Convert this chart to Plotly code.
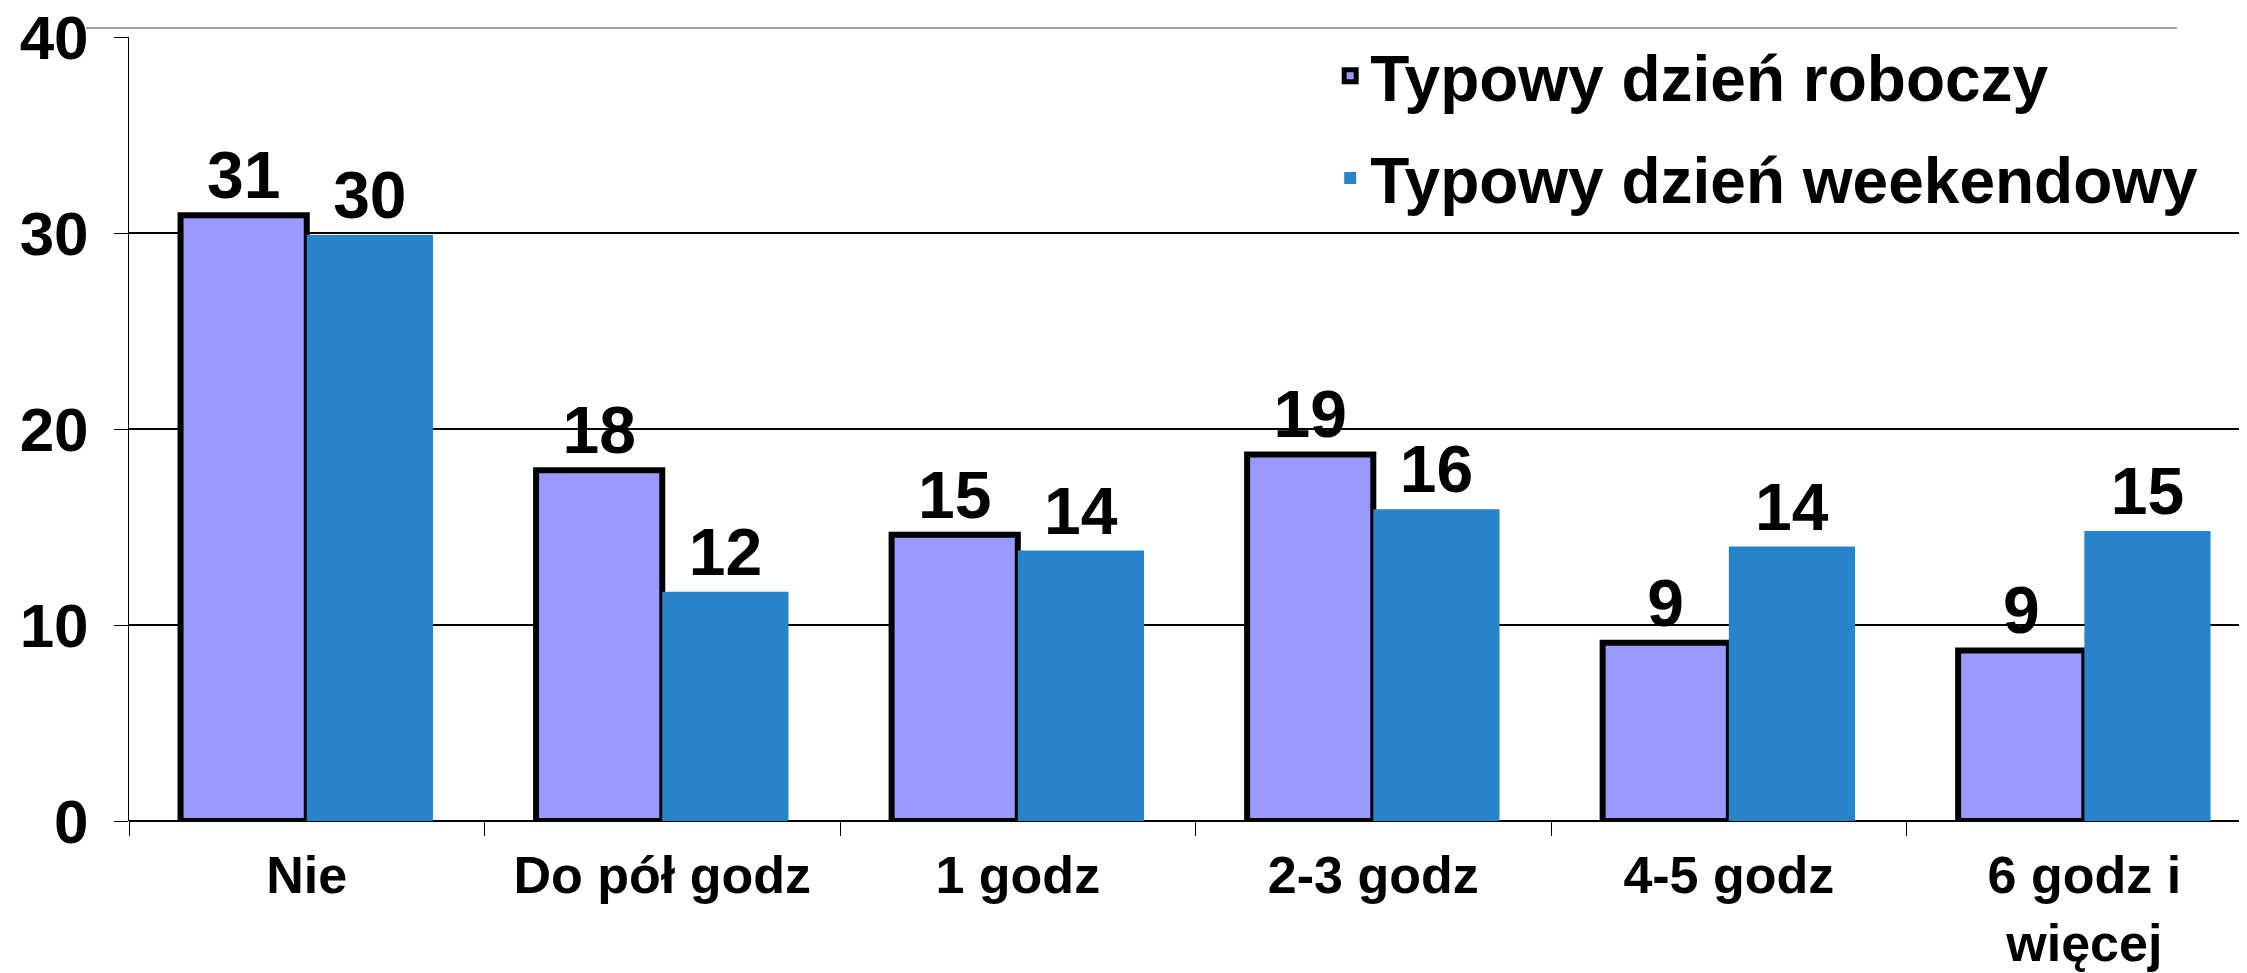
import plotly.graph_objects as go

# categories and values
categories = ["Nie", "Do pół godz", "1 godz", "2-3 godz", "4-5 godz", "6 godz i<br>więcej"]
workday = [30.9, 17.9, 14.6, 18.7, 9.1, 8.7]
weekend = [29.9, 11.7, 13.8, 15.9, 14.0, 14.8]
series_names = ["Typowy dzień roboczy", "Typowy dzień weekendowy"]
y_ticks = [0, 10, 20, 30, 40]

FONT = "Liberation Sans, Arial, sans-serif"
color_workday = "#9999FF"
color_weekend = "#2884C8"

fig = go.Figure()
fig.add_trace(go.Bar(x=categories,
                     y=workday,
                     name=series_names[0],
                     legendgroup="a",
                     marker=dict(color=color_workday, line=dict(color="black", width=6)),
                     texttemplate="%{y:.0f}",
                     textposition="outside",
                     constraintext="none",
                     cliponaxis=False,
                     textfont=dict(family=FONT, size=66, color="black", weight="bold")))
fig.add_trace(go.Bar(x=categories,
                     y=weekend,
                     name=series_names[1],
                     legendgroup="b",
                     marker=dict(color=color_weekend, line=dict(width=0)),
                     texttemplate="%{y:.0f}",
                     textposition="outside",
                     constraintext="none",
                     cliponaxis=False,
                     textfont=dict(family=FONT, size=66, color="black", weight="bold")))

fig.update_layout(width=2247,
                  height=973,
                  margin=dict(l=121, r=0, t=29, b=160, autoexpand=False),
                  paper_bgcolor="white",
                  plot_bgcolor="white",
                  barmode="group",
                  bargap=0.29,
                  bargroupgap=0,
                  font=dict(family=FONT, color="black"),
                  legend=dict(x=0.565, y=1.012, xanchor="left", yanchor="top",
                              font=dict(family=FONT, size=64, color="black", weight="bold"),
                              bgcolor="rgba(0,0,0,0)",
                              tracegroupgap=16,
                              itemwidth=30),
                  showlegend=True)

fig.update_xaxes(range=[-0.5, 5.48],
                 showline=False,
                 showgrid=False,
                 ticks="outside",
                 tickson="boundaries",
                 ticklen=14,
                 tickcolor="black",
                 tickwidth=1,
                 ticklabelstandoff=19,
                 tickfont=dict(family=FONT, size=52, color="black", weight="bold"))
fig.update_yaxes(range=[0, 40],
                 tickvals=y_ticks,
                 showline=True,
                 linecolor="black",
                 linewidth=1,
                 showgrid=True,
                 gridcolor="black",
                 gridwidth=1.5,
                 zeroline=True,
                 zerolinecolor="black",
                 zerolinewidth=1.5,
                 ticks="outside",
                 ticklen=14,
                 tickcolor="black",
                 ticklabelstandoff=13,
                 ticklabeloverflow="allow",
                 tickfont=dict(family=FONT, size=62, color="black", weight="bold"))

# thin grey rule above the plot, as in the source slide
fig.add_shape(type="line", xref="paper", yref="paper",
              x0=-0.0202, x1=0.9633, y0=1.0115, y1=1.0115,
              line=dict(color="#A0A0A0", width=2))

fig.write_html("out.html")
